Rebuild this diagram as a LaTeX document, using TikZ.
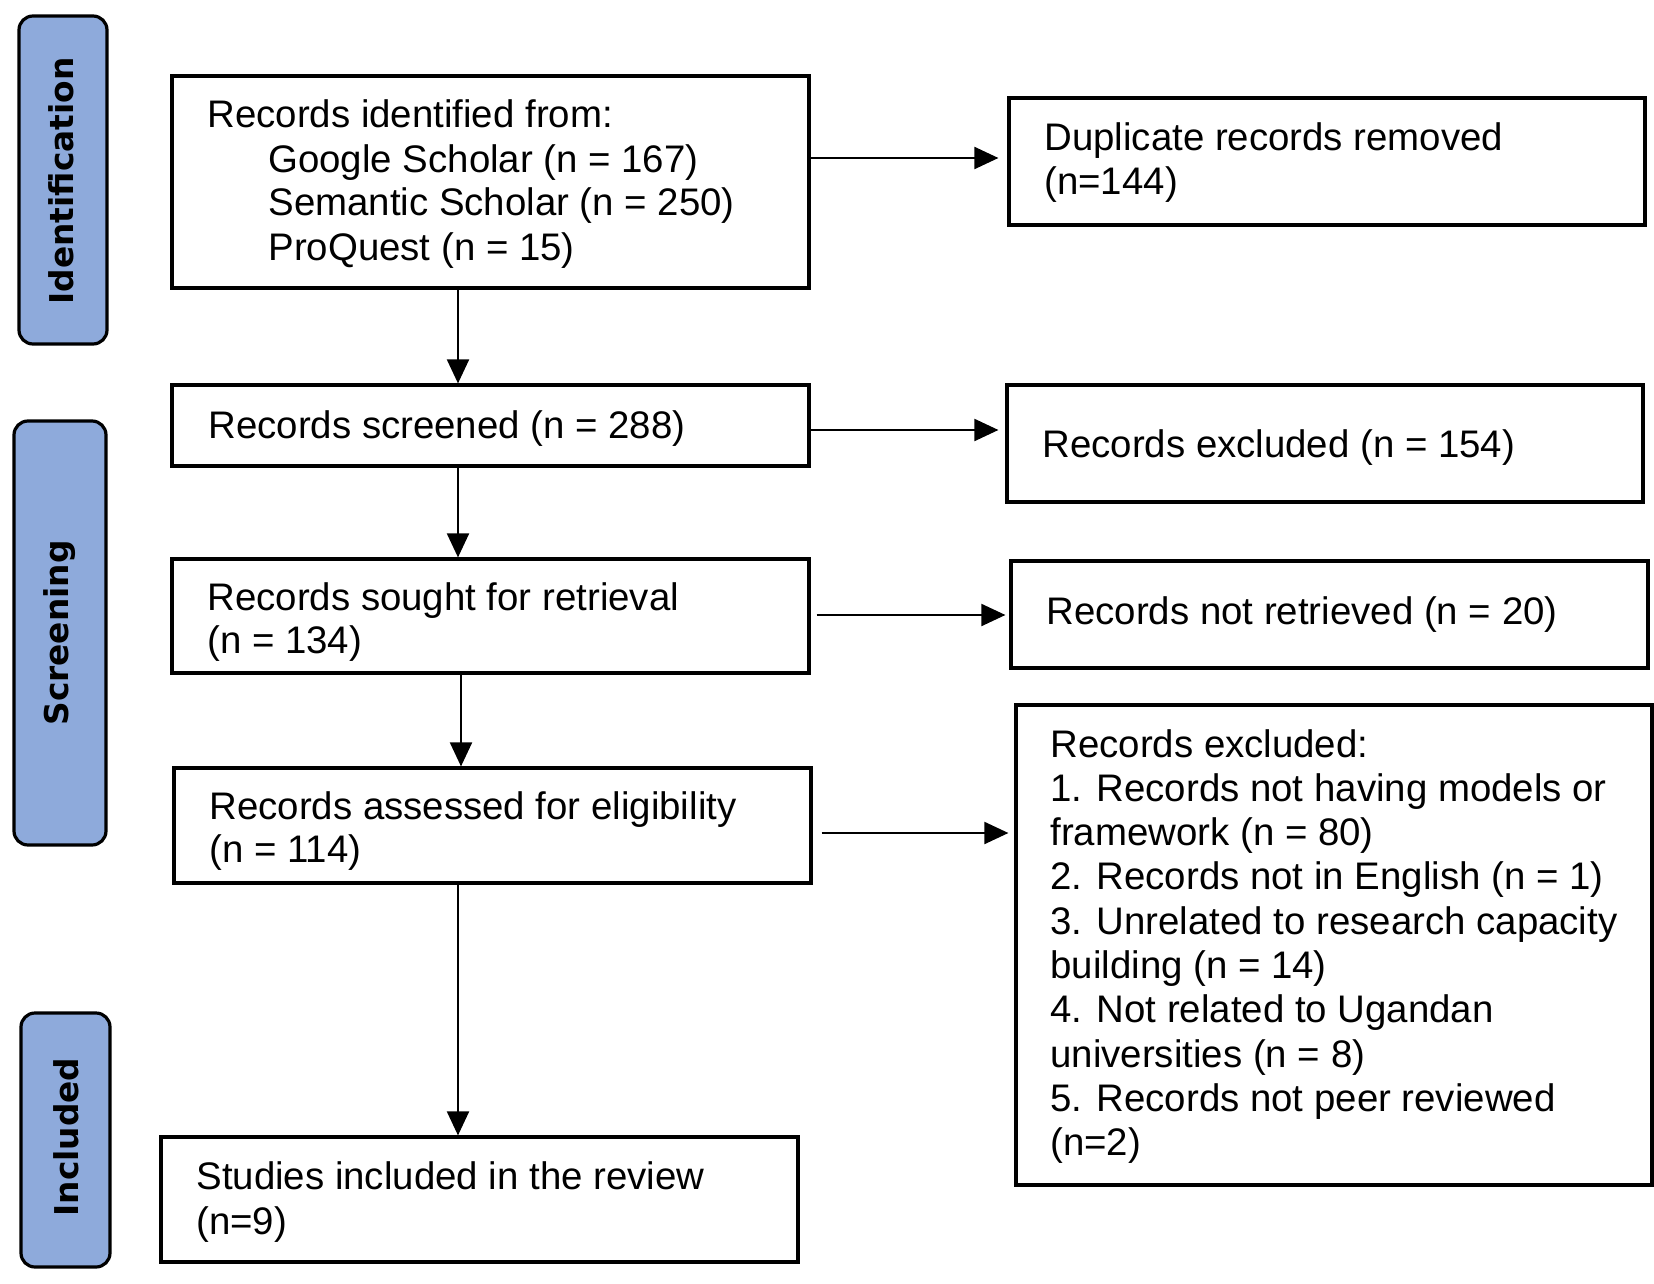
\documentclass[tikz,border=0pt]{standalone}
\usepackage{fontspec}
\setmainfont{Liberation Sans}
\newfontfamily\sidefont{DejaVu Sans}
\usetikzlibrary{arrows.meta,fit}
\definecolor{sideblue}{RGB}{142,170,219}
\begin{document}
\begin{tikzpicture}[x=0.5pt,y=-0.5pt,
  box/.style={draw=black,line width=1.6pt,inner sep=0pt},
  sidebox/.style={draw=black,line width=1.6pt,fill=sideblue,rounded corners=7pt,inner sep=0pt},
  sidelabel/.style={rotate=90,inner sep=0pt,font=\sidefont\bfseries\fontsize{16.4}{19}\selectfont},
  txt/.style={anchor=base west,inner sep=0pt,font=\fontsize{19.2}{22.2}\selectfont},
  arr/.style={-{Triangle[length=12pt,width=11pt]},line width=1pt}]
\useasboundingbox (0,0) rectangle (1654,1284);
% side boxes
\coordinate (s1a) at (19,16);   \coordinate (s1b) at (107,344);
\coordinate (s2a) at (14,421);  \coordinate (s2b) at (106,845);
\coordinate (s3a) at (21,1013); \coordinate (s3b) at (110,1267);
\node[sidebox,fit=(s1a)(s1b)] (sid) {};
\node[sidebox,fit=(s2a)(s2b)] (sscr) {};
\node[sidebox,fit=(s3a)(s3b)] (sinc) {};
\node[sidelabel] (lid) at (61,181) {Identification};
\node[sidelabel] (lscr) at (60,633) {Screening};
\node[sidelabel] (linc) at (66,1137) {Included};
% main boxes
\coordinate (b1a) at (172,76);   \coordinate (b1b) at (809,288);
\coordinate (b2a) at (172,385);  \coordinate (b2b) at (809,466);
\coordinate (b3a) at (172,559);  \coordinate (b3b) at (809,673);
\coordinate (b4a) at (174,768);  \coordinate (b4b) at (811,883);
\coordinate (b5a) at (161,1137); \coordinate (b5b) at (798,1262);
\node[box,fit=(b1a)(b1b)] (b1) {};
\node[box,fit=(b2a)(b2b)] (b2) {};
\node[box,fit=(b3a)(b3b)] (b3) {};
\node[box,fit=(b4a)(b4b)] (b4) {};
\node[box,fit=(b5a)(b5b)] (b5) {};
% right boxes
\coordinate (r1a) at (1009,98);  \coordinate (r1b) at (1645,225);
\coordinate (r2a) at (1007,385); \coordinate (r2b) at (1643,502);
\coordinate (r3a) at (1011,561); \coordinate (r3b) at (1648,668);
\coordinate (r4a) at (1016,705); \coordinate (r4b) at (1652,1185);
\node[box,fit=(r1a)(r1b)] (r1) {};
\node[box,fit=(r2a)(r2b)] (r2) {};
\node[box,fit=(r3a)(r3b)] (r3) {};
\node[box,fit=(r4a)(r4b)] (r4) {};
% texts
\node[txt] (t11) at (207,127) {Records identified from:};
\node[txt] (t12) at (268,172.5) {Google Scholar (n = 167)};
\node[txt] (t13) at (268,215.5) {Semantic Scholar (n = 250)};
\node[txt] (t14) at (268,260.5) {ProQuest (n = 15)};
\node[txt] (t21) at (208,438) {Records screened (n = 288)};
\node[txt] (t31) at (207,610) {Records sought for retrieval};
\node[txt] (t32) at (207,653) {(n = 134)};
\node[txt] (t41) at (209,819) {Records assessed for eligibility};
\node[txt] (t42) at (209,862) {(n = 114)};
\node[txt] (t51) at (196,1189) {Studies included in the review};
\node[txt] (t52) at (196,1234) {(n=9)};
\node[txt] (u11) at (1044,150) {Duplicate records removed};
\node[txt] (u12) at (1044,194) {(n=144)};
\node[txt] (u21) at (1042,457) {Records excluded (n = 154)};
\node[txt] (u31) at (1046,624) {Records not retrieved (n = 20)};
\node[txt] (u41) at (1050,757.0) {Records excluded:};
\node[txt] (u42) at (1050,801.3) {1. Records not having models or};
\node[txt] (u43) at (1050,845.6) {framework (n = 80)};
\node[txt] (u44) at (1050,889.9) {2. Records not in English (n = 1)};
\node[txt] (u45) at (1050,934.2) {3. Unrelated to research capacity};
\node[txt] (u46) at (1050,978.5) {building (n = 14)};
\node[txt] (u47) at (1050,1022.8) {4. Not related to Ugandan};
\node[txt] (u48) at (1050,1067.1) {universities (n = 8)};
\node[txt] (u49) at (1050,1111.4) {5. Records not peer reviewed};
\node[txt] (u410) at (1050,1155.7) {(n=2)};
% vertical arrows
\coordinate (xa) at (458,0);
\coordinate (xb) at (461,0);
\draw[arr] (b1.south -| xa) -- (b2.north -| xa);
\draw[arr] (b2.south -| xa) -- (b3.north -| xa);
\draw[arr] (b3.south -| xb) -- (b4.north -| xb);
\draw[arr] (b4.south -| xa) -- (b5.north -| xa);
% horizontal arrows
\coordinate (y1) at (0,158);
\coordinate (y2) at (0,430);
\coordinate (y3) at (0,615);
\coordinate (y4) at (0,833);
\draw[arr,shorten >=4.5pt] (b1.east |- y1) -- (r1.west |- y1);
\draw[arr,shorten >=3.5pt] (b2.east |- y2) -- (r2.west |- y2);
\draw[arr,shorten <=3pt,shorten >=2pt] (b3.east |- y3) -- (r3.west |- y3);
\draw[arr,shorten <=4.5pt,shorten >=3pt] (b4.east |- y4) -- (r4.west |- y4);
\end{tikzpicture}
\end{document}
